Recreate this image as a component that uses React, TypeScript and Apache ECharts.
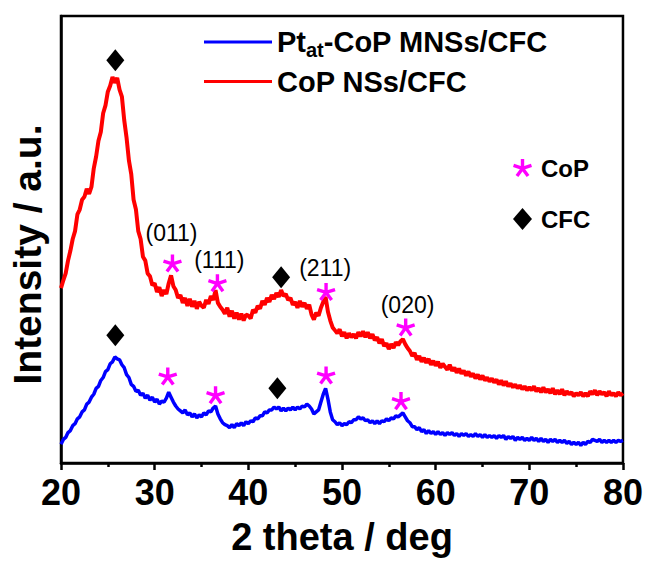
import React, { useEffect, useRef } from "react";
import * as echarts from "echarts";

// XRD patterns sampled every 0.25 deg from 20 to 80 deg (2 theta)
const THETA_START = 20;
const THETA_STEP = 0.25;

// CoP NSs/CFC (offset upwards)
const redIntensity = [
  178, 186, 193, 206, 216, 228, 236, 253, 258, 268, 271, 279, 274, 281, 300, 312,
  328, 337, 356, 364, 378, 384, 393, 387, 392, 380, 373, 349, 331, 308, 294, 268,
  258, 236, 228, 210, 206, 193, 190, 181, 183, 174, 179, 170, 176, 172, 183, 191,
  180, 176, 168, 171, 163, 168, 160, 167, 159, 165, 157, 164, 160, 158, 166, 162,
  170, 166, 176, 163, 159, 156, 152, 158, 149, 155, 147, 153, 146, 152, 145, 151,
  150, 147, 156, 153, 160, 157, 165, 161, 168, 164, 171, 167, 173, 169, 176, 170,
  172, 166, 168, 161, 164, 158, 165, 159, 163, 157, 161, 151, 146, 153, 150, 158,
  164, 169, 154, 145, 138, 135, 132, 136, 129, 133, 127, 132, 128, 131, 127, 133,
  129, 134, 128, 133, 127, 131, 125, 128, 122, 126, 119, 122, 116, 121, 117, 123,
  120, 124, 126, 121, 117, 114, 109, 112, 105, 109, 103, 107, 102, 106, 100, 104,
  99, 103, 97, 101, 98, 95, 100, 94, 97, 92, 96, 91, 94, 89, 93, 88,
  91, 86, 90, 85, 89, 84, 87, 83, 86, 82, 85, 80, 84, 79, 83, 78,
  81, 77, 80, 76, 79, 75, 78, 74, 77, 74, 78, 73, 76, 72, 77, 72,
  75, 71, 76, 70, 74, 70, 75, 69, 73, 70, 72, 68, 71, 69, 72, 68,
  71, 68, 73, 70, 74, 69, 73, 70, 72, 68, 73, 69, 71, 68, 72, 69,
  71,
];

// Pt_at-CoP MNSs/CFC
const blueIntensity = [
  19, 24, 26, 31, 33, 38, 40, 45, 47, 52, 54, 60, 62, 67, 70, 76,
  78, 84, 87, 93, 95, 101, 103, 108, 106, 105, 100, 97, 90, 87, 80, 78,
  73, 74, 69, 71, 66, 69, 64, 67, 62, 65, 60, 63, 62, 66, 72, 67,
  62, 58, 55, 53, 51, 54, 49, 51, 47, 50, 46, 49, 47, 51, 49, 53,
  52, 56, 58, 50, 45, 41, 39, 38, 36, 39, 36, 40, 38, 41, 38, 42,
  40, 43, 42, 46, 45, 48, 48, 52, 51, 54, 54, 57, 55, 57, 53, 56,
  53, 56, 54, 57, 54, 57, 55, 58, 57, 60, 58, 55, 50, 52, 54, 62,
  70, 76, 65, 52, 44, 42, 39, 41, 38, 40, 39, 42, 41, 44, 44, 47,
  45, 46, 43, 44, 41, 43, 40, 43, 40, 43, 42, 45, 43, 46, 45, 48,
  47, 49, 51, 47, 43, 41, 37, 37, 34, 36, 32, 34, 30, 33, 30, 32,
  29, 32, 29, 31, 28, 31, 29, 31, 28, 30, 27, 30, 28, 30, 27, 29,
  27, 30, 27, 29, 26, 29, 26, 28, 26, 28, 25, 28, 26, 28, 24, 27,
  25, 27, 23, 26, 24, 26, 23, 25, 23, 26, 23, 25, 22, 25, 22, 24,
  21, 24, 22, 24, 21, 23, 21, 23, 20, 22, 19, 21, 19, 21, 18, 21,
  19, 22, 21, 24, 23, 22, 24, 21, 23, 21, 23, 21, 23, 21, 23, 22,
  23,
];

// Reflection markers: [2 theta, intensity]
const cfcMarks = [
  [25.8, 410],
  [43.5, 189],
  [25.8, 130],
  [43.1, 76],
];
const copMarks = [
  [31.9, 203],
  [36.7, 183],
  [48.3, 174],
  [56.8, 138],
  [31.4, 88],
  [36.5, 69],
  [48.3, 89],
  [56.3, 63],
];

// CoP crystal planes
const planeNames = ["(011)", "(111)", "(211)", "(020)"];
const planePositions = [
  [31.8, 234],
  [36.9, 207],
  [48.2, 198],
  [57.0, 161],
];

const X_TICKS = { min: 20, max: 80, interval: 10 };

const PT_NAME = "Ptat-CoP MNSs/CFC";
const COP_NAME = "CoP NSs/CFC";

const FONT = "'Liberation Sans', Arial, Helvetica, sans-serif";

// Five-armed asterisk built from rectangular spokes
function asteriskSymbol(): string {
  const c = 50;
  const len = 50;
  const hw = 9;
  let d = "";
  for (let k = 0; k < 5; k++) {
    const a = (k * 72 * Math.PI) / 180;
    const dx = Math.sin(a);
    const dy = -Math.cos(a);
    const px = Math.cos(a);
    const py = Math.sin(a);
    const pts = [
      [c + px * hw, c + py * hw],
      [c + px * hw + dx * len, c + py * hw + dy * len],
      [c - px * hw + dx * len, c - py * hw + dy * len],
      [c - px * hw, c - py * hw],
    ];
    d +=
      "M" +
      pts.map((p) => p[0].toFixed(2) + " " + p[1].toFixed(2)).join(" L") +
      " Z ";
  }
  return "path://" + d.trim();
}

const toSeries = (vals: number[]) =>
  vals.map((v, i) => [THETA_START + i * THETA_STEP, v]);

export default function App() {
  const ref = useRef<HTMLDivElement>(null);

  useEffect(() => {
    if (!ref.current) return;
    const chart = echarts.init(ref.current, null, { renderer: "svg" });
    const asterisk = asteriskSymbol();

    chart.setOption({
      animation: false,
      backgroundColor: "#ffffff",
      textStyle: { fontFamily: FONT },
      grid: {
        left: 61,
        right: 20,
        top: 16,
        bottom: 90,
        show: true,
        borderColor: "#000",
        borderWidth: 2.5,
      },
      legend: [
        {
          data: [
            { name: PT_NAME, icon: "rect" },
            { name: COP_NAME, icon: "rect" },
          ],
          orient: "vertical",
          left: 199,
          top: 19,
          itemWidth: 68,
          itemHeight: 3,
          itemGap: 7,
          selectedMode: false,
          formatter: (name: string) =>
            name === PT_NAME
              ? "{b|Pt}{s|at}{b|-CoP MNSs/CFC}"
              : "{b|CoP NSs/CFC}",
          textStyle: {
            rich: {
              b: {
                fontFamily: FONT,
                fontSize: 29,
                fontWeight: "bold",
                color: "#000",
                lineHeight: 36,
              },
              s: {
                fontFamily: FONT,
                fontSize: 20,
                fontWeight: "bold",
                color: "#000",
                lineHeight: 20,
                padding: [16, 0, 0, 0],
              },
            },
          },
        },
        {
          data: ["CoP", "CFC"],
          orient: "vertical",
          left: 508,
          top: 151,
          itemWidth: 19,
          itemHeight: 22,
          itemGap: 27,
          selectedMode: false,
          textStyle: {
            fontFamily: FONT,
            fontSize: 24,
            fontWeight: "bold",
            color: "#000",
            padding: [0, 0, 0, 4],
          },
        },
      ],
      xAxis: {
        type: "value",
        min: X_TICKS.min,
        max: X_TICKS.max,
        interval: X_TICKS.interval,
        name: "2 theta / deg",
        nameLocation: "middle",
        nameGap: 55,
        nameTextStyle: {
          fontFamily: FONT,
          fontSize: 38,
          fontWeight: "bold",
          color: "#000",
        },
        axisLine: { show: true, lineStyle: { color: "#000", width: 2.5 } },
        axisTick: { show: true, length: 7, lineStyle: { color: "#000", width: 2.5 } },
        minorTick: {
          show: true,
          splitNumber: 2,
          length: 4,
          lineStyle: { color: "#000", width: 2.5 },
        },
        axisLabel: {
          fontFamily: FONT,
          fontSize: 36,
          fontWeight: "bold",
          color: "#000",
          margin: 11,
        },
        splitLine: { show: false },
      },
      yAxis: {
        type: "value",
        min: 0,
        max: 455,
        name: "Intensity / a.u.",
        nameLocation: "middle",
        nameGap: 14,
        nameTextStyle: {
          fontFamily: FONT,
          fontSize: 39,
          fontWeight: "bold",
          color: "#000",
          padding: [0, 30, 0, 0],
        },
        axisLine: { show: true, lineStyle: { color: "#000", width: 2.5 } },
        axisTick: { show: false },
        axisLabel: { show: false },
        splitLine: { show: false },
      },
      series: [
        {
          name: PT_NAME,
          type: "line",
          data: toSeries(blueIntensity),
          showSymbol: false,
          color: "#0000FF",
          lineStyle: { color: "#0000FF", width: 3.5 },
          z: 2,
        },
        {
          name: COP_NAME,
          type: "line",
          data: toSeries(redIntensity),
          showSymbol: false,
          color: "#FF0000",
          lineStyle: { color: "#FF0000", width: 4 },
          z: 2,
        },
        {
          name: "CoP",
          type: "scatter",
          data: copMarks,
          symbol: asterisk,
          symbolKeepAspect: true,
          symbolSize: 19,
          color: "#FF00FF",
          itemStyle: { color: "#FF00FF", opacity: 1 },
          z: 5,
        },
        {
          name: "CFC",
          type: "scatter",
          data: cfcMarks,
          symbol: "diamond",
          symbolSize: [18, 22],
          color: "#000",
          itemStyle: { color: "#000", opacity: 1 },
          z: 5,
        },
        {
          name: "planes",
          type: "scatter",
          data: planePositions.map((p, i) => ({ name: planeNames[i], value: p })),
          symbolSize: 1,
          itemStyle: { color: "rgba(0,0,0,0)", opacity: 1 },
          label: {
            show: true,
            position: "inside",
            formatter: "{b}",
            fontFamily: FONT,
            fontSize: 23,
            color: "#000",
            opacity: 1,
          },
          z: 6,
        },
      ],
    });

    return () => chart.dispose();
  }, []);

  return (
    <div
      ref={ref}
      style={{ position: "absolute", left: 0, top: 0, width: 646, height: 561 }}
    />
  );
}
